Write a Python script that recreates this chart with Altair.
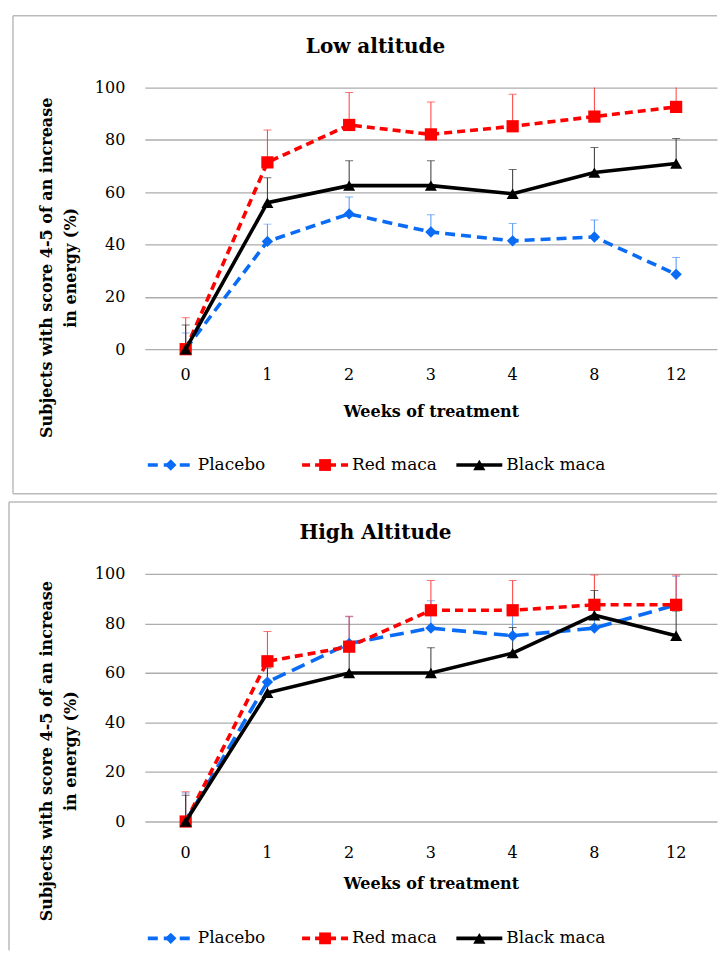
import altair as alt
import pandas as pd

weeks = ["0", "1", "2", "3", "4", "8", "12"]
series_names = ["Placebo", "Red maca", "Black maca"]

# Low altitude (%) and upper error magnitudes
low_placebo = [0, 41.2, 51.7, 44.8, 41.4, 42.9, 28.6]
low_red = [0, 71.4, 85.7, 82.1, 85.2, 88.9, 92.6]
low_black = [0, 56.0, 62.5, 62.5, 59.4, 67.5, 71.0]
low_placebo_err = [6.2, 6.6, 6.5, 6.6, 6.6, 6.5, 6.4]
low_red_err = [12.0, 12.4, 12.4, 12.4, 12.2, 12.3, 12.2]
low_black_err = [9.2, 9.5, 9.5, 9.5, 9.3, 9.6, 9.5]

# High altitude (%) and upper error magnitudes
high_placebo = [0, 56.3, 71.9, 78.1, 75.0, 78.1, 87.5]
high_red = [0, 64.7, 70.6, 85.3, 85.3, 87.5, 87.5]
high_black = [0, 52.0, 60.0, 60.0, 68.0, 83.3, 75.0]
high_placebo_err = [11.5, 10.5, 10.8, 11.0, 10.8, 11.0, 11.5]
high_red_err = [12.0, 12.0, 12.3, 12.0, 12.0, 12.0, 12.0]
high_black_err = [10.6, 10.0, 10.2, 10.2, 10.3, 10.0, 10.0]

FONT = "DejaVu Serif"
colors = ["#0A6CF5", "#FF0000", "#000000"]
err_colors = ["#4F93F7", "#FF3B3B", "#333333"]
shapes = ["diamond", "square", "triangle-up"]
sizes = [130, 150, 145]


def build_df(vals, errs):
    rows = []
    for s, v, e in zip(series_names, vals, errs):
        for w, vv, ee in zip(weeks, v, e):
            rows.append({"week": w, "series": s, "value": vv, "upper": vv + ee})
    return pd.DataFrame(rows)


def make_panel(df, title, H, dashes, label_pad, legend_y, frame_left, frame_bottom,
               draw_bottom, ytitle_y, title_y):
    W = 573
    xs = alt.Scale(domain=weeks)
    ys = alt.Scale(domain=[0, 100], nice=False)
    x_enc = alt.X("week:O", scale=xs, sort=weeks, axis=alt.Axis(
        title="Weeks of treatment", labelAngle=0, ticks=False, domain=False, grid=False,
        labelFont=FONT, labelFontSize=16, labelPadding=label_pad, labelColor="#000000",
        titleFont=FONT, titleFontSize=16, titleFontWeight="bold", titleColor="#000000",
        titleY=62, titleBaseline="middle"))
    y_axis = alt.Axis(
        title=["Subjects with score 4-5 of an increase", "in energy (%)"],
        values=[0, 20, 40, 60, 80, 100], ticks=False, domain=False, grid=True,
        gridColor="#ADADAD", gridWidth=1.3, labelFont=FONT, labelFontSize=16,
        labelPadding=20, labelColor="#000000", titleFont=FONT, titleFontSize=16,
        titleFontWeight="bold", titleColor="#000000", titleAngle=270, titleX=-98,
        titleY=ytitle_y, titleBaseline="middle", titleAlign="center", titleLineHeight=24)

    base = alt.Chart(df)
    inner = []
    for i, s in enumerate(series_names):
        f = base.transform_filter(alt.datum.series == s)
        inner.append(f.mark_rule(strokeWidth=1, color=err_colors[i], clip=True).encode(
            x=x_enc, y=alt.Y("value:Q", scale=ys, axis=y_axis), y2="upper:Q"))
        inner.append(f.mark_tick(thickness=1, size=8, color=err_colors[i], clip=True).encode(
            x=x_enc, y=alt.Y("upper:Q", scale=ys, axis=y_axis)))
    for i, s in enumerate(series_names):
        f = base.transform_filter(alt.datum.series == s)
        line_kw = dict(strokeWidth=3.6, color=colors[i])
        if i < 2:
            line_kw["strokeDash"] = dashes[i]
        inner.append(f.mark_line(**line_kw).encode(
            x=x_enc, y=alt.Y("value:Q", scale=ys, axis=y_axis)))
        inner.append(f.mark_point(shape=shapes[i], filled=True, size=sizes[i],
                                  color=colors[i], opacity=1).encode(
            x=x_enc, y=alt.Y("value:Q", scale=ys, axis=y_axis)))
    main = alt.layer(*inner)

    # frame around the panel and panel title
    fdf = pd.DataFrame({"k": [0]})
    fb = alt.Chart(fdf)
    frame = [
        fb.mark_rule(color="#BBBBBB", strokeWidth=1.5).encode(
            x=alt.value(frame_left), x2=alt.value(W), y=alt.value(-72)),
        fb.mark_rule(color="#BBBBBB", strokeWidth=1.5).encode(
            x=alt.value(frame_left), y=alt.value(-72), y2=alt.value(frame_bottom)),
    ]
    if draw_bottom:
        frame.append(fb.mark_rule(color="#BBBBBB", strokeWidth=1.5).encode(
            x=alt.value(frame_left), x2=alt.value(W), y=alt.value(frame_bottom)))
    title_mark = fb.mark_text(text=title, font=FONT, fontSize=20, fontWeight="bold",
                              color="#000000", align="center", baseline="middle").encode(
        x=alt.value(231), y=alt.value(title_y))

    # custom legend
    ldf = pd.DataFrame({"series": series_names})
    lb = alt.Chart(ldf)
    lx = alt.X("series:N", scale=alt.Scale(type="point", domain=series_names, range=[26, 335],
                                           padding=0), axis=None)
    lcol = alt.Color("series:N", scale=alt.Scale(domain=series_names, range=colors), legend=None)
    ldash = alt.StrokeDash("series:N", scale=alt.Scale(domain=series_names,
                                                       range=dashes + [[1, 0]]), legend=None)
    lshape = alt.Shape("series:N", scale=alt.Scale(domain=series_names, range=shapes), legend=None)
    lsize = alt.Size("series:N", scale=alt.Scale(domain=series_names, range=sizes), legend=None)
    legend = [
        lb.mark_rule(strokeWidth=3.6, xOffset=-23, x2Offset=23).encode(
            x=lx, x2=alt.X2("series:N"), y=alt.value(legend_y), color=lcol, strokeDash=ldash),
        lb.mark_point(filled=True, opacity=1).encode(
            x=lx, y=alt.value(legend_y), color=lcol, shape=lshape, size=lsize),
        lb.mark_text(align="left", baseline="middle", dx=27, font=FONT, fontSize=17,
                     color="#000000").encode(x=lx, y=alt.value(legend_y), text="series:N"),
    ]

    return alt.layer(*frame, title_mark, main, *legend).resolve_scale(x="independent").properties(
        width=W, height=H)


top = make_panel(build_df([low_placebo, low_red, low_black],
                          [low_placebo_err, low_red_err, low_black_err]),
                 "Low altitude", 262, [[10, 6], [8, 5]], 17, 378, -132, 406.7, True, 180, -41)
bottom = make_panel(build_df([high_placebo, high_red, high_black],
                             [high_placebo_err, high_red_err, high_black_err]),
                    "High Altitude", 248, [[14, 7], [8, 5]], 23, 365, -136, 377, False, 177, -41)

chart = alt.vconcat(top, bottom, spacing=225, bounds="flush").properties(
    padding={"left": 0, "top": 6, "right": 0, "bottom": 0},
    background="white",
).configure_view(stroke=None)

chart.save("out.html", embed_options={"renderer": "svg", "actions": False})
